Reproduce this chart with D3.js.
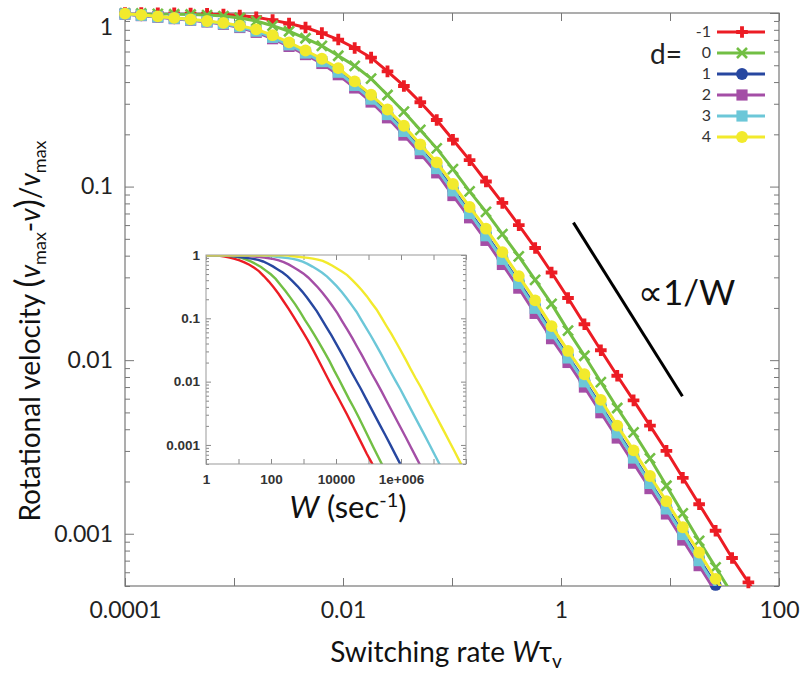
<!DOCTYPE html>
<html lang="en">
<head>
<meta charset="UTF-8">
<title>Rotational velocity vs switching rate</title>
<script src="https://d3js.org/d3.v7.min.js"></script>
<style>
  body { margin: 0; background: #fff; }
  svg { display: block; }
</style>
</head>
<body>
<div id="chart"></div>
<script>
// switching rate W*tau_v, shared by every curve
const switchRate = [0.0001, 0.000141, 0.0002, 0.000283, 0.0004, 0.000566, 0.0008, 0.00113, 0.0016, 0.00226,
  0.0032, 0.00453, 0.0064, 0.00905, 0.0128, 0.0181, 0.0256, 0.0362, 0.0512, 0.0724,
  0.102, 0.145, 0.205, 0.29, 0.41, 0.579, 0.819, 1.16, 1.64, 2.32,
  3.28, 4.63, 6.55, 9.27, 13.1, 18.5, 26.2, 37.1, 52.4, 74.1];

// (vmax - v)/vmax for each d
const dMinus1 = [1.0, 0.998, 0.997, 0.995, 0.992, 0.988, 0.981, 0.968, 0.945, 0.91,
  0.87, 0.825, 0.766, 0.703, 0.629, 0.553, 0.461, 0.38, 0.306, 0.242,
  0.186, 0.142, 0.107, 0.0805, 0.06, 0.0443, 0.032, 0.0228, 0.0161, 0.0114,
  0.00813, 0.00587, 0.0042, 0.003, 0.0021, 0.00148, 0.00104, 0.000725, 0.000525, 0.000371];
const d0 = [0.997, 0.993, 0.989, 0.984, 0.98, 0.973, 0.96, 0.937, 0.9, 0.845,
  0.785, 0.715, 0.647, 0.567, 0.496, 0.419, 0.337, 0.27, 0.212, 0.166,
  0.126, 0.0938, 0.0715, 0.0532, 0.0396, 0.029, 0.0211, 0.0148, 0.0106, 0.00748,
  0.0053, 0.00384, 0.00272, 0.00189, 0.00131, 0.00091, 0.00064, 0.00045, 0.00032, 0.00023];
const d1 = [0.987, 0.971, 0.951, 0.933, 0.914, 0.894, 0.87, 0.836, 0.79, 0.728,
  0.661, 0.592, 0.529, 0.461, 0.387, 0.323, 0.264, 0.211, 0.165, 0.129,
  0.0962, 0.0712, 0.0531, 0.0388, 0.0282, 0.0204, 0.0145, 0.0105, 0.00764, 0.00544,
  0.00388, 0.00278, 0.00198, 0.00142, 0.00101, 0.000717, 0.000507, 0.00036, 0.000255, 0.00018];
const d2 = [0.984, 0.966, 0.946, 0.928, 0.909, 0.888, 0.861, 0.825, 0.774, 0.711,
  0.642, 0.576, 0.512, 0.441, 0.37, 0.307, 0.249, 0.198, 0.155, 0.12,
  0.0888, 0.0661, 0.049, 0.0356, 0.026, 0.0186, 0.0133, 0.0097, 0.007, 0.00498,
  0.00356, 0.00255, 0.00182, 0.0013, 0.00092, 0.000655, 0.000463, 0.00033, 0.000233, 0.000165];
const d3v = [0.987, 0.97, 0.95, 0.932, 0.913, 0.892, 0.868, 0.833, 0.786, 0.724,
  0.656, 0.588, 0.525, 0.456, 0.383, 0.319, 0.26, 0.208, 0.163, 0.127,
  0.0945, 0.07, 0.0521, 0.0381, 0.0277, 0.0199, 0.0142, 0.0103, 0.0075, 0.00533,
  0.00381, 0.00273, 0.00195, 0.00139, 0.00099, 0.0007, 0.000496, 0.00035, 0.00025, 0.000177];
const d4 = [0.991, 0.976, 0.956, 0.937, 0.919, 0.899, 0.877, 0.846, 0.805, 0.745,
  0.678, 0.608, 0.545, 0.481, 0.404, 0.338, 0.278, 0.224, 0.175, 0.138,
  0.1035, 0.0763, 0.0572, 0.0419, 0.0305, 0.0221, 0.0157, 0.0113, 0.0083, 0.0059,
  0.0042, 0.00302, 0.00215, 0.00154, 0.00109, 0.00078, 0.00055, 0.00039, 0.00028, 0.0002];

const dLabels = ["-1", "0", "1", "2", "3", "4"];
const colors = ["#ec1c24", "#72bf44", "#2747a0", "#a44ea6", "#6cc7d8", "#f2ea2c"];
const markers = ["cross", "times", "circle", "square", "square", "circle"];
// tau_v (sec) of each curve, for the inset W axis
const tauV = [4.2e-4, 1.3e-4, 2.8e-5, 6.5e-6, 1.7e-6, 4.1e-7];

const xTicks = [1e-4, 1e-3, 1e-2, 1e-1, 1, 10, 100];
const xTickLabels = ["0.0001", "", "0.01", "", "1", "", "100"];
const yTicks = [1, 0.1, 0.01, 0.001];
const yTickLabels = ["1", "0.1", "0.01", "0.001"];
const insetXTicks = [1, 10, 100, 1e3, 1e4, 1e5, 1e6, 1e7, 1e8];
const insetXLabels = ["1", "", "100", "", "10000", "", "1e+006", "", ""];
const slopeGuide = [[1.3, 0.062], [13, 0.0062]];

const allY = [dMinus1, d0, d1, d2, d3v, d4];
const series = dLabels.map((d, i) => ({
  d: d, color: colors[i], marker: markers[i], tau: tauV[i],
  values: switchRate.map((x, j) => ({ x: x, y: allY[i][j] }))
}));

const width = 805, height = 678;
const margin = { top: 13, right: 26, bottom: 92, left: 125 };
const font = "Lato, 'Open Sans', 'DejaVu Sans', sans-serif";

const svg = d3.select("#chart").append("svg")
  .attr("width", width).attr("height", height)
  .style("font-family", font);

const x = d3.scaleLog().domain([1e-4, 100]).range([margin.left, width - margin.right]);
const y = d3.scaleLog().domain([5e-4, 1]).range([height - margin.bottom, margin.top]);

const frameColor = "#777";

function markerPath(type) {
  if (type === "cross") return d3.symbol(d3.symbolCross, 75)();
  if (type === "times") return "M-5,-5L5,5M-5,5L5,-5";
  if (type === "circle") return d3.symbol(d3.symbolCircle, 110)();
  return d3.symbol(d3.symbolSquare, 125)();
}

function drawMarker(g, s, px, py) {
  const p = g.append("path").attr("d", markerPath(s.marker))
    .attr("transform", `translate(${px},${py})`);
  if (s.marker === "times") p.attr("fill", "none").attr("stroke", s.color).attr("stroke-width", 2.6);
  else p.attr("fill", s.color);
}

// axes with inward ticks on all four sides
function styleAxis(g) {
  g.select(".domain").remove();
  g.selectAll(".tick line").attr("stroke", frameColor);
  g.selectAll("text").attr("fill", "#222").style("font-family", font);
}

const yMinor = y.ticks().filter(v => !yTicks.some(t => Math.abs(t - v) / t < 1e-6));

svg.append("g").attr("transform", `translate(0,${y.range()[0]})`)
  .call(d3.axisBottom(x).tickValues(xTicks).tickSize(-8).tickPadding(16)
    .tickFormat((d, i) => xTickLabels[i]))
  .call(styleAxis).selectAll("text").attr("font-size", 23);
svg.append("g").attr("transform", `translate(0,${y.range()[1]})`)
  .call(d3.axisTop(x).tickValues(xTicks).tickSize(-8).tickFormat(""))
  .call(styleAxis);
svg.append("g").attr("transform", `translate(${x.range()[0]},0)`)
  .call(d3.axisLeft(y).tickValues(yTicks).tickSize(-9).tickPadding(12)
    .tickFormat((d, i) => yTickLabels[i]))
  .call(styleAxis).selectAll("text").attr("font-size", 23)
  .attr("dy", (d, i) => i === 0 ? "0.95em" : "0.32em");
svg.append("g").attr("transform", `translate(${x.range()[0]},0)`)
  .call(d3.axisLeft(y).tickValues(yMinor).tickSize(-5).tickFormat(""))
  .call(styleAxis);
svg.append("g").attr("transform", `translate(${x.range()[1]},0)`)
  .call(d3.axisRight(y).tickValues(yTicks).tickSize(-9).tickFormat(""))
  .call(styleAxis);
svg.append("g").attr("transform", `translate(${x.range()[1]},0)`)
  .call(d3.axisRight(y).tickValues(yMinor).tickSize(-5).tickFormat(""))
  .call(styleAxis);

svg.append("rect")
  .attr("x", x.range()[0]).attr("y", y.range()[1])
  .attr("width", x.range()[1] - x.range()[0]).attr("height", y.range()[0] - y.range()[1])
  .attr("fill", "none").attr("stroke", frameColor).attr("stroke-width", 1.2);

svg.append("clipPath").attr("id", "plotClip").append("rect")
  .attr("x", x.range()[0]).attr("y", y.range()[1])
  .attr("width", x.range()[1] - x.range()[0]).attr("height", y.range()[0] - y.range()[1]);

// main curves: line then points, in order d=-1..4
const line = d3.line().x(d => x(d.x)).y(d => y(d.y));
const curves = svg.append("g");
series.forEach(s => {
  curves.append("path").datum(s.values)
    .attr("clip-path", "url(#plotClip)")
    .attr("d", line).attr("fill", "none")
    .attr("stroke", s.color).attr("stroke-width", 3);
  const mg = curves.append("g");
  s.values.filter(v => v.x <= 100 && v.y >= 5e-4)
    .forEach(v => drawMarker(mg, s, x(v.x), y(v.y)));
});

// 1/W guide
svg.append("line")
  .attr("x1", x(slopeGuide[0][0])).attr("y1", y(slopeGuide[0][1]))
  .attr("x2", x(slopeGuide[1][0])).attr("y2", y(slopeGuide[1][1]))
  .attr("stroke", "#000").attr("stroke-width", 3);
svg.append("text").attr("x", 638).attr("y", 305)
  .attr("font-size", 35).attr("fill", "#111").text("\u221D1/W");

// legend
const legend = svg.append("g");
legend.append("text").attr("x", 666).attr("y", 64).attr("text-anchor", "middle")
  .attr("font-size", 28).attr("fill", "#222").text("d=");
series.forEach((s, i) => {
  const ly = 32 + i * 21;
  legend.append("text").attr("x", 711).attr("y", ly + 5).attr("text-anchor", "end")
    .attr("font-size", 16).attr("fill", "#333").text(s.d);
  legend.append("line").attr("x1", 717).attr("x2", 765).attr("y1", ly).attr("y2", ly)
    .attr("stroke", s.color).attr("stroke-width", 3);
  drawMarker(legend, s, 742, ly);
});

// inset: same curves against W (sec^-1)
const ix = d3.scaleLog().domain([1, 1e8]).range([206, 466]);
const iy = d3.scaleLog().domain([5e-4, 1]).range([464, 255]);
const inset = svg.append("g");
inset.append("rect").attr("x", 206).attr("y", 255).attr("width", 260).attr("height", 209)
  .attr("fill", "#fff");
const iyMinor = iy.ticks().filter(v => !yTicks.some(t => Math.abs(t - v) / t < 1e-6));
function styleInset(g) {
  g.select(".domain").remove();
  g.selectAll(".tick line").attr("stroke", "#888");
  g.selectAll("text").attr("fill", "#333").attr("font-size", 13.5).attr("font-weight", "bold")
    .style("font-family", "'Liberation Sans', Arial, sans-serif");
}
inset.append("g").attr("transform", "translate(0,464)")
  .call(d3.axisBottom(ix).tickValues(insetXTicks).tickSize(-5).tickPadding(10)
    .tickFormat((d, i) => insetXLabels[i])).call(styleInset);
inset.append("g").attr("transform", "translate(0,255)")
  .call(d3.axisTop(ix).tickValues(insetXTicks).tickSize(-5).tickFormat("")).call(styleInset);
inset.append("g").attr("transform", "translate(206,0)")
  .call(d3.axisLeft(iy).tickValues(yTicks).tickSize(-5).tickPadding(6)
    .tickFormat((d, i) => yTickLabels[i])).call(styleInset);
inset.append("g").attr("transform", "translate(206,0)")
  .call(d3.axisLeft(iy).tickValues(iyMinor).tickSize(-3).tickFormat("")).call(styleInset);
inset.append("g").attr("transform", "translate(466,0)")
  .call(d3.axisRight(iy).tickValues(yTicks).tickSize(-5).tickFormat("")).call(styleInset);
inset.append("g").attr("transform", "translate(466,0)")
  .call(d3.axisRight(iy).tickValues(iyMinor).tickSize(-3).tickFormat("")).call(styleInset);

inset.append("clipPath").attr("id", "insetClip").append("rect")
  .attr("x", 206).attr("y", 255).attr("width", 260).attr("height", 209);
const iline = d3.line().x(d => ix(d.w)).y(d => iy(d.y));
series.forEach(s => {
  const pts = [{ w: ix.domain()[0], y: s.values[0].y }]
    .concat(s.values.map(v => ({ w: v.x / s.tau, y: v.y })));
  inset.append("path").datum(pts.filter(p => p.w >= ix.domain()[0]))
    .attr("clip-path", "url(#insetClip)")
    .attr("d", iline).attr("fill", "none")
    .attr("stroke", s.color).attr("stroke-width", 2.4);
});
inset.append("rect").attr("x", 206).attr("y", 255).attr("width", 260).attr("height", 209)
  .attr("fill", "none").attr("stroke", "#999").attr("stroke-width", 1);

const insetTitle = inset.append("text").attr("x", 348).attr("y", 518)
  .attr("text-anchor", "middle").attr("font-size", 31).attr("fill", "#111");
insetTitle.append("tspan").attr("font-style", "italic").text("W");
insetTitle.append("tspan").text(" (sec");
insetTitle.append("tspan").attr("dy", -11).attr("font-size", 20).text("-1");
insetTitle.append("tspan").attr("dy", 11).text(")");

// axis titles
const xTitle = svg.append("text").attr("x", 446).attr("y", 662)
  .attr("text-anchor", "middle").attr("font-size", 28).attr("fill", "#111");
xTitle.append("tspan").text("Switching rate ");
xTitle.append("tspan").attr("font-style", "italic").text("W");
xTitle.append("tspan").text("\u03C4");
xTitle.append("tspan").attr("dy", 6).attr("font-size", 19).text("v");

const yTitle = svg.append("text")
  .attr("transform", "translate(40,331) rotate(-90)")
  .attr("text-anchor", "middle").attr("font-size", 28).attr("fill", "#111");
yTitle.append("tspan").text("Rotational velocity ");
yTitle.append("tspan").attr("font-size", 34).text("(");
yTitle.append("tspan").attr("font-style", "italic").text("v");
yTitle.append("tspan").attr("dy", 6).attr("font-size", 18).text("max");
yTitle.append("tspan").attr("dy", -6).text("-");
yTitle.append("tspan").attr("font-style", "italic").text("v");
yTitle.append("tspan").attr("font-size", 34).text(")");
yTitle.append("tspan").text("/");
yTitle.append("tspan").attr("font-style", "italic").text("v");
yTitle.append("tspan").attr("dy", 6).attr("font-size", 18).text("max");
</script>
</body>
</html>
